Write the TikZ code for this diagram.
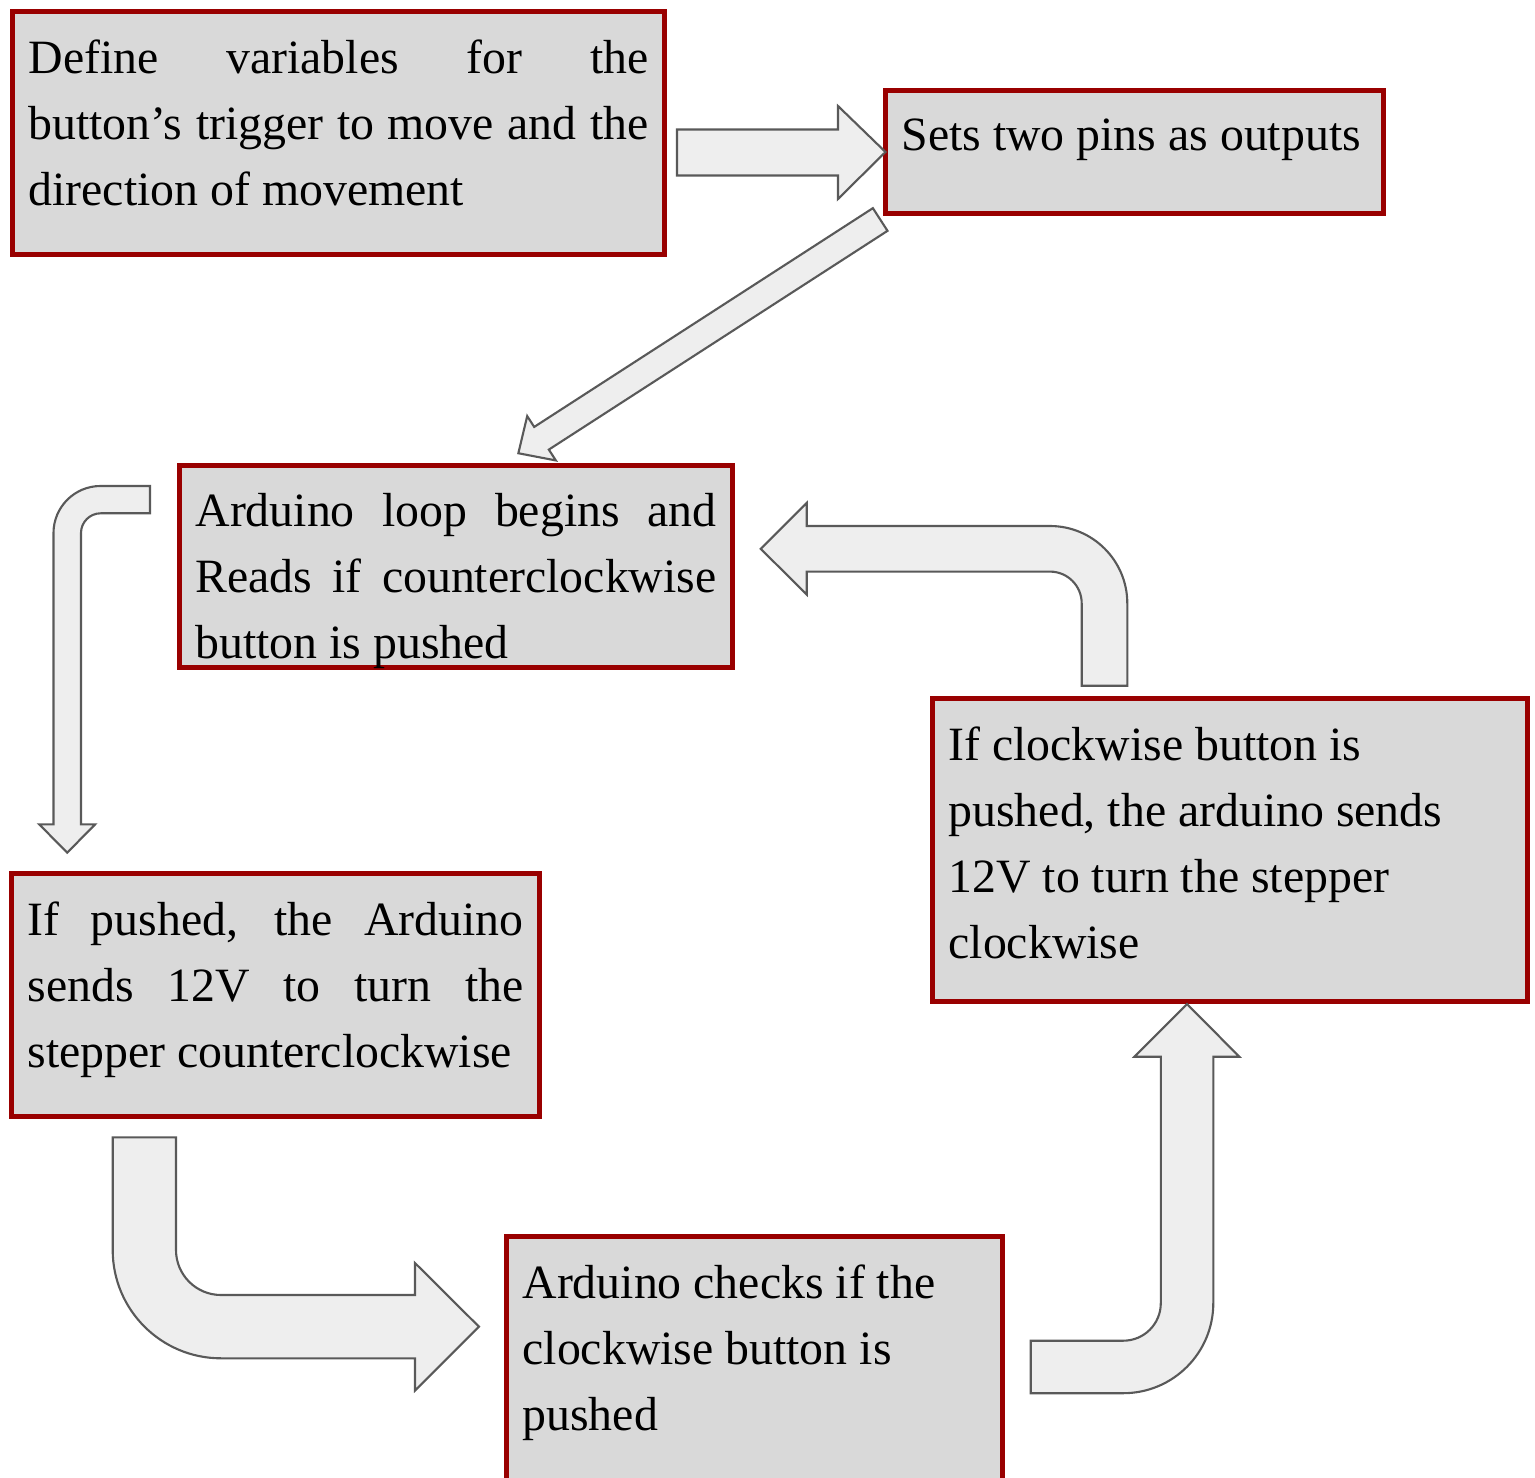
\documentclass[tikz,border=0pt]{standalone}
\usepackage{fontspec}
\setmainfont{Liberation Serif}
\usepackage{xcolor}
\usepackage{tikz}
\usetikzlibrary{positioning, calc}

\definecolor{boxred}{HTML}{990000}
\definecolor{boxgray}{HTML}{D9D9D9}
\definecolor{arrowfill}{HTML}{EEEEEE}
\definecolor{arrowline}{HTML}{595959}

\begin{document}
\begin{tikzpicture}[
  stepbox/.style={draw=boxred, fill=boxgray, line width=1.3pt,
                  anchor=north west, outer sep=0pt,
                  inner xsep=0.16cm, inner ysep=0pt,
                  font=\fontsize{13.6}{18.8}\selectfont},
  blockarrow/.style={draw=arrowline, fill=arrowfill, line width=0.6pt,
                     line join=miter}
]

\useasboundingbox (0,0) rectangle (15.35,-14.78);
\clip (0,0) rectangle (15.35,-14.78);

\def\pad{0.28cm}

\node[stepbox] (define) at (0.125,-0.115) {\parbox[t][2.43cm][t]{6.2cm}{\vspace{\pad}%
  Define variables for the\linebreak button’s trigger to move and the\linebreak direction of movement}};

\node[stepbox] (pins) at (8.855,-0.905) {\parbox[t][1.23cm][t]{4.66cm}{\raggedright\vspace{\pad}%
  Sets two pins as outputs}};

\node[stepbox] (loop) at (1.795,-4.655) {\parbox[t][2.02cm][t]{5.21cm}{\vspace{\pad}%
  Arduino loop begins and\linebreak Reads if counterclockwise\linebreak button is pushed}};

\node[stepbox] (cw) at (9.325,-6.985) {\parbox[t][3.03cm][t]{5.63cm}{\raggedright\vspace{\pad}%
  If clockwise button is\\ pushed, the arduino sends\\ 12V to turn the stepper\\ clockwise}};

\node[stepbox] (ccw) at (0.115,-8.735) {\parbox[t][2.43cm][t]{4.96cm}{\vspace{\pad}%
  If pushed, the Arduino\linebreak sends 12V to turn the\linebreak stepper counterclockwise}};

\node[stepbox] (check) at (5.065,-12.365) {\parbox[t][2.8cm][t]{4.64cm}{\raggedright\vspace{\pad}%
  Arduino checks if the\\ clockwise button is\\ pushed}};

% define -> pins
\filldraw[blockarrow] (6.77,-1.295) -- (8.38,-1.295) -- (8.38,-1.06)
  -- (pins.west) -- (8.38,-1.99) -- (8.38,-1.755) -- (6.77,-1.755) -- cycle;

% pins -> loop
\begin{scope}[shift={(8.802,-2.195)}, rotate=212.86]
  \filldraw[blockarrow] (0,0.135) -- (4.032,0.135) -- (4.032,0.264) -- (4.308,0)
    -- (4.032,-0.264) -- (4.032,-0.135) -- (0,-0.135) -- cycle;
\end{scope}

% loop -> ccw
\filldraw[blockarrow] (1.50,-4.86) -- (1.005,-4.86) arc (90:180:0.47)
  -- (0.535,-8.243) -- (0.392,-8.243) -- (0.672,-8.527) -- (0.952,-8.243)
  -- (0.81,-8.243) -- (0.81,-5.33) arc (180:90:0.197) -- (1.50,-5.133) -- cycle;

% ccw -> check
\filldraw[blockarrow] (1.127,-11.373) -- (1.127,-12.5) arc (180:270:1.083)
  -- (4.15,-13.583) -- (4.15,-13.905) -- (4.79,-13.267) -- (4.15,-12.63)
  -- (4.15,-12.95) -- (2.21,-12.95) arc (270:180:0.45) -- (1.76,-11.373) -- cycle;

% check -> cw
\filldraw[blockarrow] (10.307,-13.407) -- (11.233,-13.407) arc (270:360:0.375)
  -- (11.608,-10.567) -- (11.343,-10.567) -- (11.87,-10.04) -- (12.393,-10.567)
  -- (12.133,-10.567) -- (12.133,-13.032) arc (0:-90:0.9) -- (10.307,-13.932) -- cycle;

% cw -> loop
\filldraw[blockarrow] (10.817,-6.857) -- (10.817,-6.033) arc (0:90:0.317)
  -- (8.067,-5.716) -- (8.067,-5.945) -- (7.607,-5.488) -- (8.067,-5.03)
  -- (8.067,-5.26) -- (10.5,-5.26) arc (90:0:0.773) -- (11.273,-6.857) -- cycle;

\end{tikzpicture}
\end{document}
